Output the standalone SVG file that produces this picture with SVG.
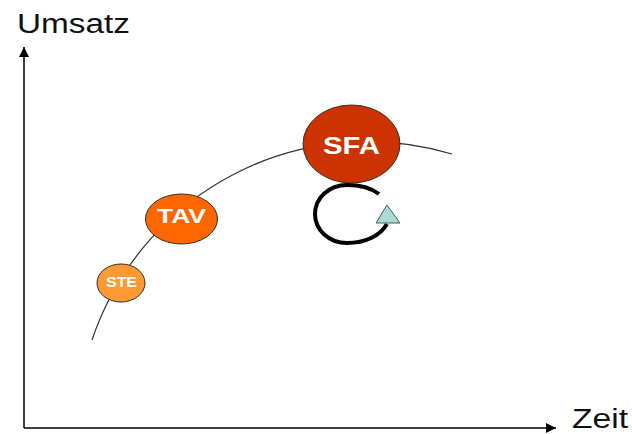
<svg xmlns="http://www.w3.org/2000/svg" width="632" height="434" viewBox="0 0 632 434">
  <defs>
    <marker id="axisHead" viewBox="0 0 10 10" refX="10" refY="5" markerWidth="11" markerHeight="10" markerUnits="userSpaceOnUse" orient="auto">
      <path d="M0,0 L10,5 L0,10 Z" fill="#000"/>
    </marker>
    <style>
      .axis { stroke: #000; stroke-width: 1.5; fill: none; }
      .axis-label { font-family: "Liberation Sans", Arial, sans-serif; font-size: 27px; fill: #111; }
      .curve { stroke: #333; stroke-width: 1.2; fill: none; }
      .node-shape { stroke: #3a2a20; stroke-width: 1; }
      .node-label { font-family: "Liberation Sans", Arial, sans-serif; font-weight: bold; fill: #fff; text-anchor: middle; }
    </style>
  </defs>
  <rect width="632" height="434" fill="#fff"/>

  <!-- Axes -->
  <g id="axes">
    <line class="axis" x1="24" y1="428" x2="24" y2="47" marker-end="url(#axisHead)"/>
    <line class="axis" x1="24" y1="428" x2="556" y2="428" marker-end="url(#axisHead)"/>
    <text class="axis-label" x="17" y="33" textLength="113" lengthAdjust="spacingAndGlyphs">Umsatz</text>
    <text class="axis-label" x="572" y="428" font-size="26" textLength="56" lengthAdjust="spacingAndGlyphs">Zeit</text>
  </g>

  <!-- Life-cycle curve -->
  <g id="connectors">
    <path class="curve" d="M92,340 A291,291 0 0 1 452,154"/>
  </g>

  <g id="node-ste">
    <ellipse class="node-shape" cx="121" cy="283" rx="24" ry="19" fill="#FF9933"/>
    <text class="node-label" x="121.5" y="287" font-size="14" textLength="31" lengthAdjust="spacingAndGlyphs">STE</text>
  </g>

  <g id="node-tav">
    <ellipse class="node-shape" cx="181.5" cy="219" rx="36" ry="25" fill="#FF6600"/>
    <text class="node-label" x="181.5" y="223" font-size="21" textLength="49" lengthAdjust="spacingAndGlyphs">TAV</text>
  </g>

  <g id="node-sfa">
    <ellipse class="node-shape" cx="351.5" cy="144" rx="48.5" ry="39" fill="#CC3300"/>
    <text class="node-label" x="351.5" y="154" font-size="24" textLength="57" lengthAdjust="spacingAndGlyphs">SFA</text>
  </g>

  <!-- Cycle symbol -->
  <g id="cycle">
    <path d="M379,194 C370,187 360,185 347,185 C329,185 315,198 315,214 C315,230 329,243 347,243 C365,243 380,236 387,224" fill="none" stroke="#000" stroke-width="4"/>
    <polygon points="387,205 376,223 400,223" fill="#A9D9D9" stroke="#4a5a5a" stroke-width="1"/>
  </g>
</svg>
